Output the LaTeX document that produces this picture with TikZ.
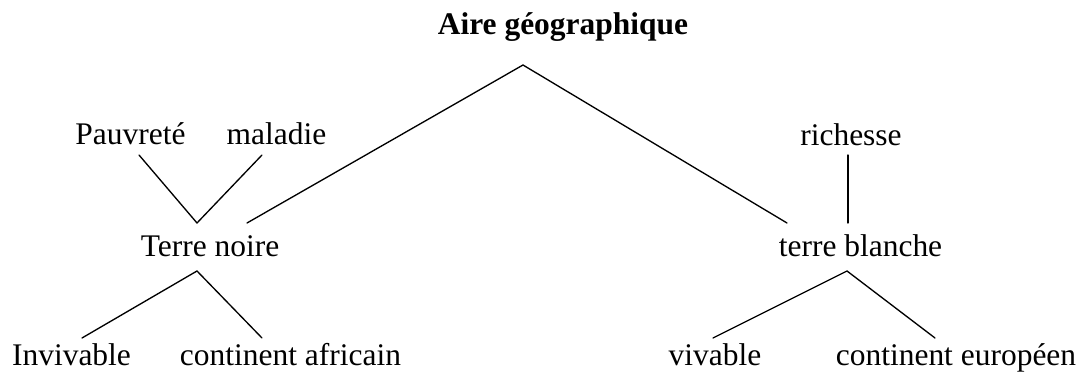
\documentclass[tikz,border=0pt]{standalone}
\usepackage{fontspec}
\setmainfont{Liberation Serif}
\usepackage{tikz}
\usetikzlibrary{calc}

\begin{document}
\begin{tikzpicture}[
    x=0.75pt, y=-0.75pt,
    word/.style={anchor=base, inner sep=0pt, font=\fontsize{23.6}{28}\selectfont},
    title/.style={word, font=\fontsize{23.6}{28}\selectfont\bfseries},
    link/.style={line width=1pt, line cap=round},
  ]
  \useasboundingbox (0,0) rectangle (1086,374);

  \node[title] (aire) at (563,35) {Aire géographique};

  \node[word] (pauv) at (130.5,145) {Pauvreté};
  \node[word] (mal) at (276.5,145) {maladie};
  \node[word] (tnoire) at (210,257) {Terre noire};
  \node[word] (inviv) at (71.5,365) {Invivable};
  \node[word] (afric) at (290.5,365) {continent africain};

  \node[word] (rich) at (851,146) {richesse};
  \node[word] (tblanche) at (860.5,257) {terre blanche};
  \node[word] (viv) at (715,365) {vivable};
  \node[word] (europ) at (956,365) {continent européen};

  % junctions
  \coordinate (top) at (523,65);
  \coordinate (noireup) at ($(tnoire.base)+(-13,-34)$);
  \coordinate (noiredown) at ($(tnoire.base)+(-13,14)$);
  \coordinate (blancheup) at ($(tblanche.base)+(-12.5,-34)$);
  \coordinate (blanchedown) at ($(tblanche.base)+(-13.5,14)$);

  % top branches
  \draw[link] ($(tnoire.base)+(37,-34)$) -- (top) -- ($(tblanche.base)+(-73.5,-34)$);

  % Terre noire
  \draw[link] ($(pauv.base)+(8.5,10)$) -- (noireup) -- ($(mal.base)+(-14.5,10)$);
  \draw[link] ($(inviv.base)+(10.5,-27)$) -- (noiredown) -- ($(afric.base)+(-28.5,-27)$);

  % terre blanche
  \draw[link] ($(rich.base)+(-3,9)$) -- (blancheup);
  \draw[link] ($(viv.base)+(-2,-27)$) -- (blanchedown) -- ($(europ.base)+(-21,-27)$);

\end{tikzpicture}
\end{document}
